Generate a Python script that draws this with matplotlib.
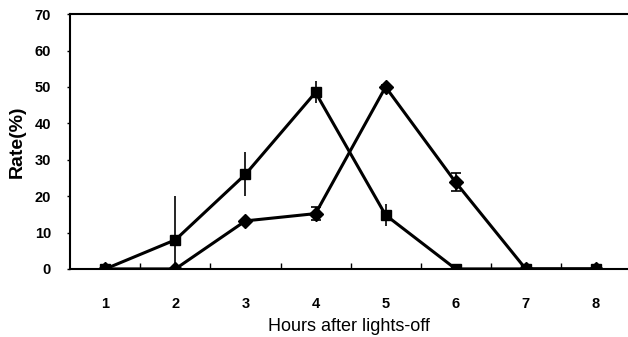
import numpy as np
import matplotlib.pyplot as plt

plt.rcParams['font.family'] = ['Liberation Sans', 'DejaVu Sans']

hours = [1, 2, 3, 4, 5, 6, 7, 8]
sq_vals = [0, 8, 26, 48.5, 14.8, 0, 0, 0]
sq_err = [0, 12, 6, 3, 3, 0, 0, 0]
dia_vals = [0, 0, 13.2, 15.2, 50, 23.8, 0, 0]
dia_err = [0, 0, 0, 1.8, 0.5, 2.5, 0, 0]
y_ticks = [0, 10, 20, 30, 40, 50, 60, 70]

fig = plt.figure(figsize=(6.28, 3.37), dpi=100)
ax = fig.add_axes([0.112, 0.202, 0.888, 0.756])

ax.errorbar(hours, sq_vals, yerr=sq_err, color='black', lw=2.2, marker='s',
            ms=7.5, elinewidth=1.2, capsize=0, zorder=3)
ax.errorbar(hours, dia_vals, yerr=dia_err, color='black', lw=2.2, marker='D',
            ms=7.5, elinewidth=1.2, capsize=3.5, capthick=1.2, zorder=3)

ax.set_xlim(0.5, 8.46)
ax.set_ylim(0, 70)
ax.set_yticks(y_ticks)
ax.set_yticklabels([str(t) for t in y_ticks], fontweight='bold', fontsize=10.5)
ax.set_xticks(hours)
ax.set_xticklabels([str(h) for h in hours], fontweight='bold', fontsize=10.5)
ax.tick_params(axis='x', which='major', length=0, pad=20)
ax.set_xticks([h + 0.5 for h in hours[:-1]], minor=True)
ax.tick_params(axis='x', which='minor', direction='in', length=4, width=1)
ax.tick_params(axis='y', direction='out', length=2, width=1, pad=12)

for s in ['left', 'bottom', 'top']:
    ax.spines[s].set_linewidth(1.5)
ax.spines['right'].set_visible(False)

ax.set_ylabel('Rate(%)', fontsize=14, fontweight='bold', labelpad=6)
ax.set_xlabel('Hours after lights-off', fontsize=13, labelpad=5)

fig.savefig('out.png', dpi=100)
